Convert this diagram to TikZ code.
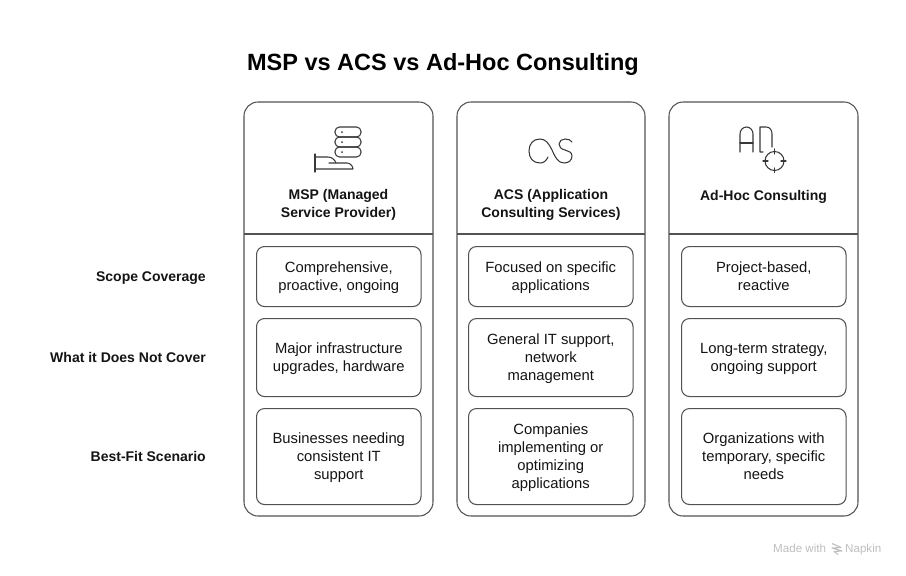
\documentclass[tikz,border=0pt]{standalone}
\usepackage{fontspec}
\setmainfont{Liberation Sans}
\newcommand{\cellopen}{\rule{0pt}{16.2pt}}
\newcommand{\cellshut}{\rule[-5.4pt]{0pt}{5.4pt}}
\tikzset{
  x=1pt,y=-1pt,
  cardbox/.style={draw=black!68,line width=1.05pt,rounded corners=14pt},
  rulepart/.style={draw=black!68,line width=1.05pt},
  cellbox/.style={draw=black!68,line width=1.05pt,rounded corners=8pt,minimum width=164.5pt,inner sep=0pt,anchor=north west,align=center,text=black!92,font=\fontsize{14.8}{18}\selectfont},
  headtext/.style={align=center,inner sep=0pt,font=\bfseries\fontsize{14}{18}\selectfont,text=black!92,execute at begin node={\strut},execute at end node={\strut}},
  sidetext/.style={anchor=base east,inner sep=0pt,font=\bfseries\fontsize{14}{18}\selectfont,text=black!92},
  iconline/.style={draw=black!78,line width=1.05pt,line cap=round,line join=round},
  brandtext/.style={inner sep=0pt,anchor=base west,text=black!25,font=\fontsize{11.6}{13}\selectfont},
}
\begin{document}
\begin{tikzpicture}
\useasboundingbox (0,0) rectangle (906,576);
\fill[white] (0,0) rectangle (906,576);
\node[inner sep=0pt,anchor=base,font=\bfseries\fontsize{23.5}{28}\selectfont] (title) at (443,70) {MSP vs ACS vs Ad-Hoc Consulting};
% columns
\draw[cardbox] (244,102) rectangle (433,516);
\draw[cardbox] (457,102) rectangle (645,516);
\draw[cardbox] (669,102) rectangle (858,516);
\draw[rulepart] (244,234) -- (433,234);
\draw[rulepart] (457,234) -- (645,234);
\draw[rulepart] (669,234) -- (858,234);
% headers
\node[headtext] (h1) at (338.5,206) {MSP (Managed\\Service Provider)};
\node[headtext] (h2) at (551,206) {ACS (Application\\Consulting Services)};
\node[headtext] (h3) at (763.5,197) {Ad-Hoc Consulting};
% side labels
\node[sidetext] (s1) at (206,281) {Scope Coverage};
\node[sidetext] (s2) at (206,362) {What it Does Not Cover};
\node[sidetext] (s3) at (206,461) {Best-Fit Scenario};
% cells
\node[cellbox,minimum height=60pt] (a1) at (256,246) {\cellopen Comprehensive,\\proactive, ongoing\cellshut};
\node[cellbox,minimum height=78pt] (a2) at (256,318) {\cellopen Major infrastructure\\upgrades, hardware\cellshut};
\node[cellbox,minimum height=96pt] (a3) at (256,408) {\cellopen Businesses needing\\consistent IT\\support\cellshut};
\node[cellbox,minimum height=60pt] (b1) at (468,246) {\cellopen Focused on specific\\applications\cellshut};
\node[cellbox,minimum height=78pt] (b2) at (468,318) {\cellopen General IT support,\\network\\management\cellshut};
\node[cellbox,minimum height=96pt] (b3) at (468,408) {\cellopen Companies\\implementing or\\optimizing\\applications\cellshut};
\node[cellbox,minimum height=60pt] (c1) at (681,246) {\cellopen Project-based,\\reactive\cellshut};
\node[cellbox,minimum height=78pt] (c2) at (681,318) {\cellopen Long-term strategy,\\ongoing support\cellshut};
\node[cellbox,minimum height=96pt] (c3) at (681,408) {\cellopen Organizations with\\temporary, specific\\needs\cellshut};
% icon 1
\draw[iconline,rounded corners=4.5pt] (335,127) rectangle (361,137);
\draw[iconline,rounded corners=4.5pt] (335,137) rectangle (361,147);
\draw[iconline,rounded corners=4.5pt] (335,147) rectangle (361,157);
\fill[black!78] (342,132) circle (1pt) (342,142) circle (1pt) (342,152) circle (1pt);
\draw[iconline] (315,154) -- (315,172);
\draw[iconline] (315,157) -- (328,157) .. controls (332,157) and (335,160) .. (336,163);
\draw[iconline] (329,163) -- (347,163) .. controls (350,163) and (353,166) .. (353,169) -- (315,169);
% icon 2
\draw[iconline] (548,157) .. controls (546,161) and (544,163) .. (540,163)
  .. controls (533,163) and (529,158) .. (529,151)
  .. controls (529,144) and (533,139) .. (540,139)
  .. controls (546,139) and (549,144) .. (552,150)
  .. controls (555,157) and (558,163) .. (564,163)
  .. controls (569,163) and (572,160) .. (572,156)
  .. controls (572,152) and (568,151) .. (565,150)
  .. controls (561,149) and (559,147) .. (559,144)
  .. controls (559,141) and (562,139) .. (565,139)
  .. controls (568,139) and (571,140) .. (572,142);
% icon 3
\draw[iconline] (740,152) -- (740,134) .. controls (740,130) and (743,127) .. (746.5,127)
  .. controls (750,127) and (753,130) .. (753,134) -- (753,152);
\draw[iconline] (740,143) -- (753,143);
\draw[iconline] (763,152) -- (760,152) -- (760,127) -- (766,127) .. controls (770,127) and (772,130) .. (772,134) -- (772,147);
\draw[iconline] (774.5,161) circle (9.5pt);
\draw[iconline] (774.5,149) -- (774.5,154) (774.5,168) -- (774.5,172.5);
\draw[iconline] (763,161) -- (768,161) (781,161) -- (786,161);
% brand
\node[brandtext] (m) at (773,552.5) {Made with};
\node[brandtext] (n) at (845,552.5) {Napkin};
\draw[draw=black!25,line width=1.1pt,line join=round] (832,543.5) -- (841,547.5) -- (832,548) -- (842,551) -- (834,551.5) -- (838,554.5);
\end{tikzpicture}
\end{document}
